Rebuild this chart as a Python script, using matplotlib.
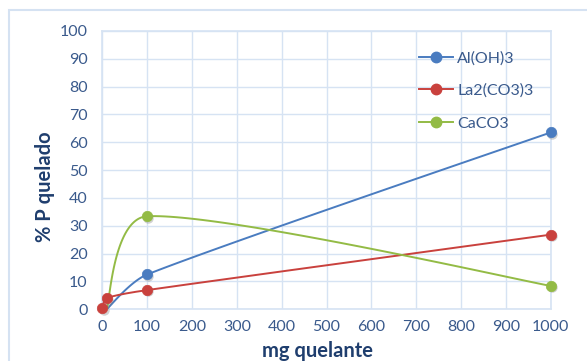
import numpy as np
import matplotlib
matplotlib.use("Agg")
import matplotlib.pyplot as plt
from matplotlib.patches import Rectangle
from matplotlib import transforms

# Chelated phosphorus vs. chelator dose
series_names = ["Al(OH)3", "La2(CO3)3", "CaCO3"]
alum_x = [10, 100, 1000]
alum_y = [0, 12.5, 63.5]
lanth_x = [0, 10, 100, 1000]
lanth_y = [0.4, 4.0, 6.9, 26.8]
calc_x = [10, 100, 1000]
calc_y = [0, 33.4, 8.4]

x_ticks = list(range(0, 1001, 100))
y_ticks = list(range(0, 101, 10))

colors = ["#4A7CC0", "#C9413D", "#93BB45"]
text_col = "#3A5A8C"
title_col = "#1F3E6E"
grid_col = "#D6E3F3"

plt.rcParams["font.family"] = ["Lato", "DejaVu Sans"]

fig = plt.figure(figsize=(5.87, 3.61), dpi=100)
W, H = 587, 361
ax = fig.add_axes([102.3 / W, 1 - 309.3 / H, (550.7 - 102.3) / W, (309.3 - 30.8) / H])
ax.set_xlim(0, 1000)
ax.set_ylim(0, 100)
ax.set_xticks(x_ticks)
ax.set_yticks(y_ticks)
ax.tick_params(length=0, labelsize=11.5, colors=text_col)
ax.tick_params(axis="y", pad=10.5)
ax.tick_params(axis="x", pad=8)
ax.grid(True, color=grid_col, lw=1.0)
ax.set_axisbelow(True)
for s in ax.spines.values():
    s.set_color(grid_col)
    s.set_linewidth(1.2)

# chart-area frame
fig.patches.append(Rectangle((8.5 / W, -0.1), 1.2, 1 - 10 / H + 0.1, transform=fig.transFigure,
                             fill=False, ec="#D5E2F2", lw=1.5, zorder=0))

fig.canvas.draw()


def smooth(xs, ys, n=60):
    """Cubic Bezier smoothing in display space with bounded tangents."""
    P = ax.transData.transform(np.column_stack([xs, ys]))
    m = len(P)
    D = []
    for i in range(m):
        a = P[max(i - 1, 0)]
        b = P[min(i + 1, m - 1)]
        scale = 6.0 if 0 < i < m - 1 else 14.0
        D.append((b - a) / scale)
    pts = [P[0]]
    t = np.linspace(0, 1, n)[1:, None]
    for i in range(m - 1):
        p0, p3 = P[i], P[i + 1]
        seg = np.linalg.norm(p3 - p0) / 3.0
        d0, d1 = D[i].copy(), D[i + 1].copy()
        for d in (d0, d1):
            L = np.linalg.norm(d)
            if L > seg:
                d *= seg / L
        c1, c2 = p0 + d0, p3 - d1
        curve = ((1 - t) ** 3) * p0 + 3 * ((1 - t) ** 2) * t * c1 + 3 * (1 - t) * t ** 2 * c2 + t ** 3 * p3
        pts.extend(curve)
    pts = np.array(pts)
    return ax.transData.inverted().transform(pts).T


shadow = transforms.offset_copy(ax.transData, fig=fig, x=1.2, y=-1.4, units="dots")

data = [(alum_x, alum_y, 1), (lanth_x, lanth_y, 0), (calc_x, calc_y, 1)]
for (xs, ys, skip), c, name in zip(data, colors, series_names):
    sx, sy = smooth(xs, ys)
    ax.plot(sx, sy, color=c, lw=1.4, solid_capstyle="round", zorder=3)
    mx, my = xs[skip:], ys[skip:]
    ax.plot(mx, my, ls="none", marker="o", ms=7.5, mfc="#7f7f7f", mec="none",
            alpha=0.35, transform=shadow, zorder=3.5, clip_on=False)
    ax.plot(mx, my, ls="none", marker="o", ms=7.5, mfc=c, mec=c, mew=0.5,
            zorder=4, clip_on=False)
    ax.plot([], [], color=c, lw=1.4, marker="o", ms=7.5, label=name)

leg = ax.legend(loc="upper left", bbox_to_anchor=(419 / W, 1 - 51 / H),
                bbox_transform=fig.transFigure, frameon=False, fontsize=11.5,
                handlelength=2.1, handletextpad=0.3, labelspacing=1.15,
                borderpad=0, borderaxespad=0)
for txt in leg.get_texts():
    txt.set_color(text_col)

fig.text(317 / W, 1 - 351 / H, "mg quelante", ha="center", va="center",
         fontsize=14.5, fontweight="bold", color=title_col)
fig.text(45 / W, 1 - 186.5 / H, "% P quelado", ha="center", va="center",
         rotation=90, fontsize=14.5, fontweight="bold", color=title_col)

fig.savefig("out.png", dpi=100, facecolor="white")
